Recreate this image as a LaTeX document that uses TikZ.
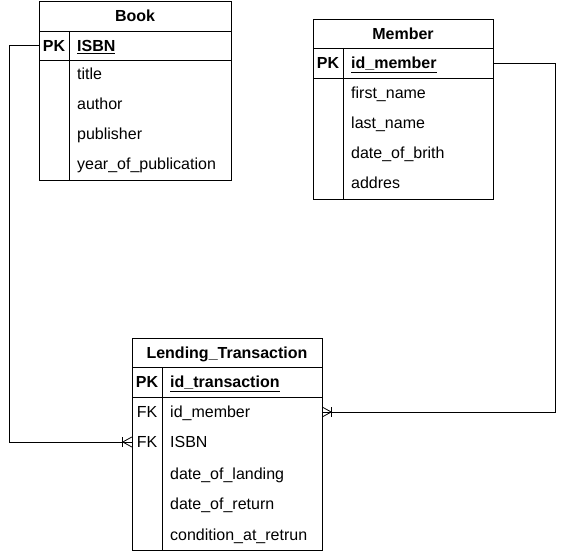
\documentclass[tikz,border=0pt]{standalone}
\usepackage{fontspec}
\setmainfont{Liberation Sans}
\begin{document}
\begin{tikzpicture}[x=1pt,y=-1pt,
  every node/.style={font=\fontsize{16}{19}\selectfont},
  tbl/.style={draw,line width=0.8pt,inner sep=0,anchor=north west},
  rowbox/.style={inner sep=0,minimum height=30pt},
  fld/.style={anchor=base west,inner sep=0,yshift=-5.7pt},
  key/.style={anchor=base,inner sep=0,yshift=-5.7pt},
  hdr/.style={anchor=base,inner sep=0,yshift=-5.7pt,font=\fontsize{16}{19}\selectfont\bfseries},
  ln/.style={line width=0.8pt},
  conn/.style={line width=0.8pt}]
\useasboundingbox (0,0) rectangle (566,551);
% ---------- Book ----------
\node[tbl,minimum width=192pt,minimum height=179pt] (book) at (39,1) {};
\node[hdr] (bookttl) at (135,15.5) {Book};
\draw[ln] (39,31) -- (231,31);
\draw[ln] (39,60) -- (231,60);
\draw[ln] (69,31) -- (69,180);
\node[rowbox,minimum width=192pt] (bookpk) at (135,45.5) {};
\node[hdr] (bookpkl) at (54,45.5) {PK};
\node[fld,font=\fontsize{16}{19}\selectfont\bfseries] (bookisbn) at (77,45.5) {\underline{ISBN}};
\node[fld] (booktitle) at (77,74) {title};
\node[fld] (bookauthor) at (77,104) {author};
\node[fld] (bookpub) at (77,134) {publisher};
\node[fld] (bookyear) at (77,164) {year\_of\_publication};
% ---------- Member ----------
\node[tbl,minimum width=180pt,minimum height=180pt] (member) at (313,19) {};
\node[hdr] (memttl) at (403,33.5) {Member};
\draw[ln] (313,48) -- (493,48);
\draw[ln] (313,78) -- (493,78);
\draw[ln] (343,48) -- (343,199);
\node[rowbox,minimum width=180pt] (mempk) at (403,63) {};
\node[hdr] (mempkl) at (328,63) {PK};
\node[fld,font=\fontsize{16}{19}\selectfont\bfseries] (memid) at (351,63) {\underline{id\_member}};
\node[fld] (memfirst) at (351,93) {first\_name};
\node[fld] (memlast) at (351,123) {last\_name};
\node[fld] (memdob) at (351,153) {date\_of\_brith};
\node[fld] (memaddr) at (351,183) {addres};
% ---------- Lending_Transaction ----------
\node[tbl,minimum width=190pt,minimum height=212pt] (lt) at (132,338) {};
\node[hdr] (ltttl) at (227,352.5) {Lending\_Transaction};
\draw[ln] (132,367) -- (322,367);
\draw[ln] (132,397) -- (322,397);
\draw[ln] (162,367) -- (162,550);
\node[hdr] (ltpkl) at (147,382) {PK};
\node[fld,font=\fontsize{16}{19}\selectfont\bfseries] (ltid) at (170,382) {\underline{id\_transaction}};
\node[rowbox,minimum width=190pt] (ltmem) at (227,412) {};
\node[key] (ltfk1) at (147,412) {FK};
\node[fld] (ltmemt) at (170,412) {id\_member};
\node[rowbox,minimum width=190pt] (ltisbn) at (227,442) {};
\node[key] (ltfk2) at (147,442) {FK};
\node[fld] (ltisbnt) at (170,442) {ISBN};
\node[fld] (ltlanding) at (170,474) {date\_of\_landing};
\node[fld] (ltreturn) at (170,504) {date\_of\_return};
\node[fld] (ltcond) at (170,535) {condition\_at\_retrun};
% ---------- connectors ----------
\coordinate (c1) at (9,45.5);
\coordinate (c2) at (555,63);
\draw[conn] (bookpk.west) -- (c1) |- (ltisbn.west);
\draw[conn] (ltisbn.west) ++(0,-5) -- ++(-9,5) -- ++(9,5);
\draw[conn] (ltisbn.west) ++(-9,-5) -- ++(0,10);
\draw[conn] (mempk.east) -- (c2) |- (ltmem.east);
\draw[conn] (ltmem.east) ++(0,-5) -- ++(9,5) -- ++(-9,5);
\draw[conn] (ltmem.east) ++(9,-5) -- ++(0,10);
\end{tikzpicture}
\end{document}
